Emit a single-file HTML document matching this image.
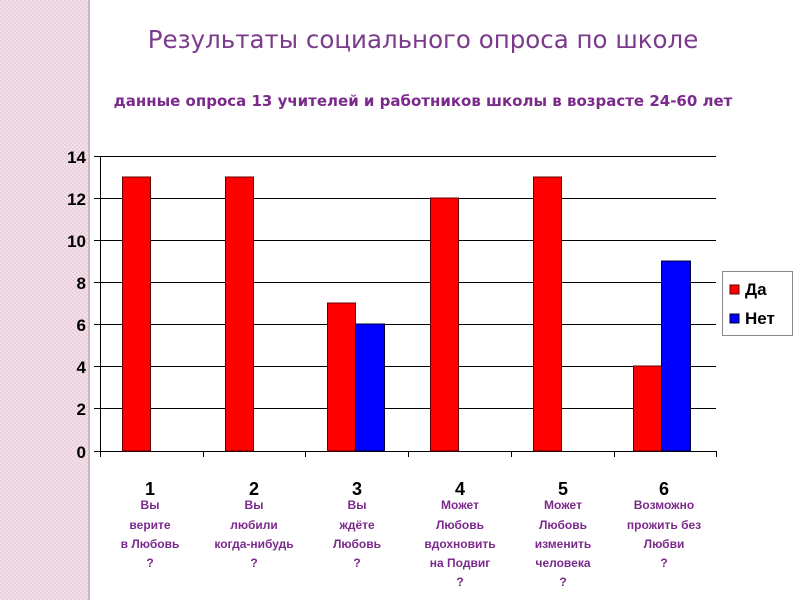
<!DOCTYPE html>
<html><head><meta charset="utf-8"><style>
body{margin:0;background:#fff}
svg{display:block}
</style></head><body>
<svg width="800" height="600" xmlns="http://www.w3.org/2000/svg" font-family="Liberation Sans, sans-serif">
<defs>
<pattern id="p" width="4" height="4" patternUnits="userSpaceOnUse">
<rect width="4" height="4" fill="#f3e0ea"/><rect width="2" height="2" fill="#ead0dd"/><rect x="2" y="2" width="2" height="2" fill="#ead0dd"/>
</pattern>
</defs>
<rect x="0" y="0" width="88" height="600" fill="url(#p)"/>
<rect x="88" y="0" width="2" height="600" fill="#c8b8c0"/>
<text x="423" y="48" font-size="24.5" fill="#7b3a8c" text-anchor="middle" font-family="DejaVu Sans, sans-serif">Результаты социального опроса по школе</text>
<text x="423" y="106" font-size="15" fill="#7b2a8c" font-weight="bold" text-anchor="middle" font-family="DejaVu Sans, sans-serif">данные опроса 13 учителей и работников школы в возрасте 24-60 лет</text>
<g stroke="#000" stroke-width="1">
<line x1="94" y1="156.5" x2="716" y2="156.5"/>
<line x1="94" y1="198.5" x2="716" y2="198.5"/>
<line x1="94" y1="240.5" x2="716" y2="240.5"/>
<line x1="94" y1="282.5" x2="716" y2="282.5"/>
<line x1="94" y1="324.5" x2="716" y2="324.5"/>
<line x1="94" y1="366.5" x2="716" y2="366.5"/>
<line x1="94" y1="408.5" x2="716" y2="408.5"/>
<line x1="94" y1="451.5" x2="717" y2="451.5"/>
<line x1="100.5" y1="156" x2="100.5" y2="457"/>
<line x1="203.5" y1="451" x2="203.5" y2="457"/>
<line x1="305.5" y1="451" x2="305.5" y2="457"/>
<line x1="408.5" y1="451" x2="408.5" y2="457"/>
<line x1="511.5" y1="451" x2="511.5" y2="457"/>
<line x1="614.5" y1="451" x2="614.5" y2="457"/>
<line x1="716.5" y1="451" x2="716.5" y2="457"/>
</g>
<g font-size="17" font-weight="bold" text-anchor="end">
<text x="86" y="163">14</text><text x="86" y="205">12</text><text x="86" y="247">10</text>
<text x="86" y="289">8</text><text x="86" y="331">6</text><text x="86" y="373">4</text>
<text x="86" y="415">2</text><text x="86" y="458">0</text>
</g>
<g stroke="#600" stroke-width="1">
<rect x="122.5" y="177" width="28" height="274" fill="#ff0000"/>
<rect x="225.5" y="177" width="28" height="274" fill="#ff0000"/>
<rect x="327.5" y="303" width="28" height="148" fill="#ff0000"/>
<rect x="355.5" y="324" width="29" height="127" fill="#0000ff" stroke="#003"/>
<rect x="430.5" y="198" width="28" height="253" fill="#ff0000"/>
<rect x="533.5" y="177" width="28" height="274" fill="#ff0000"/>
<rect x="633.5" y="366" width="28" height="85" fill="#ff0000"/>
<rect x="661.5" y="261" width="29" height="190" fill="#0000ff" stroke="#003"/>
</g>
<g font-size="18" font-weight="bold" text-anchor="middle">
<text x="150" y="495">1</text><text x="254" y="495">2</text><text x="357" y="495">3</text>
<text x="460" y="495">4</text><text x="563" y="495">5</text><text x="664" y="495">6</text>
</g>
<g font-size="12" font-weight="bold" fill="#7b2a8c" text-anchor="middle">
<text x="150" y="509">Вы</text><text x="150" y="529">верите</text><text x="150" y="548">в Любовь</text><text x="150" y="567">?</text>
<text x="254" y="509">Вы</text><text x="254" y="529">любили</text><text x="254" y="548">когда-нибудь</text><text x="254" y="567">?</text>
<text x="357" y="509">Вы</text><text x="357" y="529">ждёте</text><text x="357" y="548">Любовь</text><text x="357" y="567">?</text>
<text x="460" y="509">Может</text><text x="460" y="529">Любовь</text><text x="460" y="548">вдохновить</text><text x="460" y="567">на Подвиг</text><text x="460" y="586">?</text>
<text x="563" y="509">Может</text><text x="563" y="529">Любовь</text><text x="563" y="548">изменить</text><text x="563" y="567">человека</text><text x="563" y="586">?</text>
<text x="664" y="509">Возможно</text><text x="664" y="529">прожить без</text><text x="664" y="548">Любви</text><text x="664" y="567">?</text>
</g>
<rect x="722.5" y="271.5" width="70" height="64" fill="#fff" stroke="#888"/>
<rect x="730" y="285" width="9" height="9" fill="#ff0000" stroke="#600"/>
<rect x="730" y="314" width="9" height="9" fill="#0000ff" stroke="#003"/>
<g font-size="17" font-weight="bold">
<text x="745" y="295">Да</text><text x="745" y="324">Нет</text>
</g>
</svg>
</body></html>
